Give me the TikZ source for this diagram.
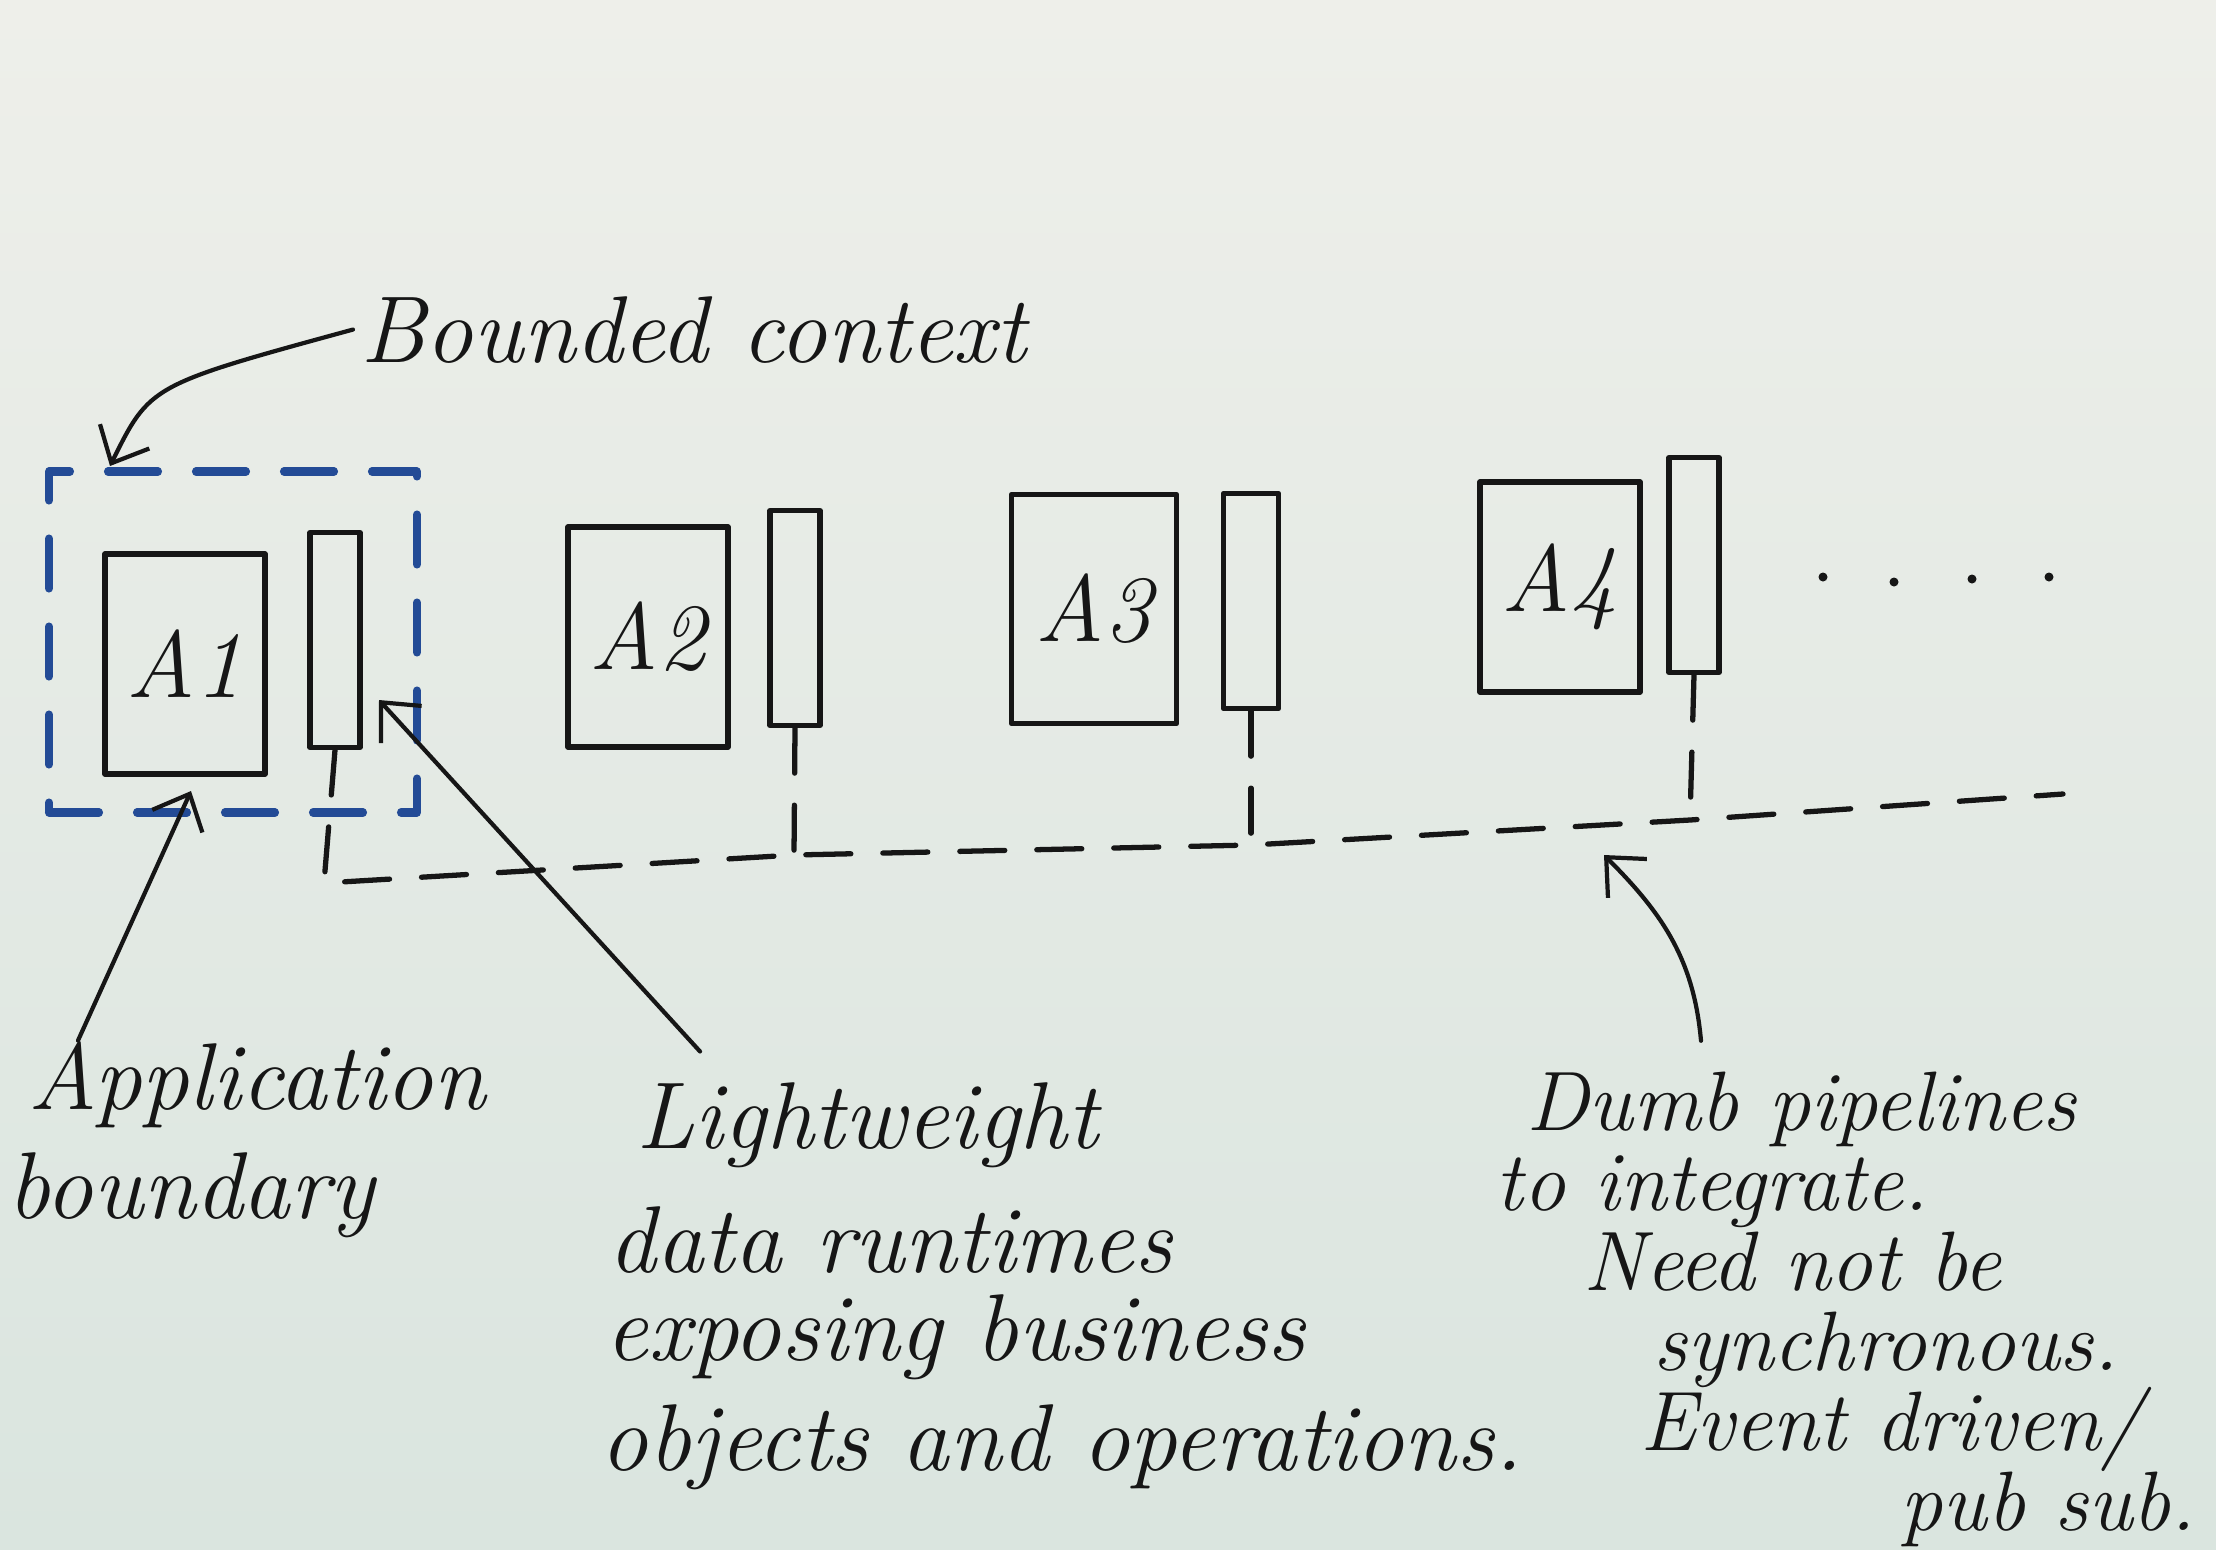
\documentclass[tikz,border=0pt]{standalone}
\usepackage{tikz}
\usetikzlibrary{arrows.meta}
\definecolor{paper}{RGB}{238,239,234}
\definecolor{paperlow}{RGB}{218,229,223}
\definecolor{inkblue}{RGB}{35,75,150}
\definecolor{ink}{RGB}{22,22,22}

\begin{document}
\begin{tikzpicture}[>={Straight Barb[length=3mm,width=5.5mm]},line join=round,line cap=round,
  hand/.style={font=\fontsize{27}{30}\selectfont\itshape,text=ink,inner sep=0pt,anchor=base west},
  handsm/.style={hand,font=\fontsize{24}{27}\selectfont\itshape},
  appbox/.style={draw=ink,line width=1.6pt,minimum width=1.6cm,minimum height=2.2cm,inner sep=0pt,font=\fontsize{27}{30}\selectfont\itshape,text=ink},
  runtime/.style={draw=ink,line width=1.5pt,minimum width=0.5cm,minimum height=2.15cm,inner sep=0pt},
  bcbox/.style={draw=inkblue,line width=2.3pt,dash pattern=on 0.5cm off 0.38cm,minimum width=3.68cm,minimum height=3.41cm},
  pipe/.style={draw=ink,line width=1.5pt,dash pattern=on 0.45cm off 0.32cm},
  arr/.style={->,draw=ink,line width=1.2pt}]
  \shade[top color=paper,bottom color=paperlow] (0,0) rectangle (22.16,-15.49);
  \useasboundingbox (0,0) rectangle (22.16,-15.49);
  \node[bcbox] (BC) at (2.33,-6.42) {};
  \node[appbox] (A1) at (1.85,-6.64) {A1};
  \node[runtime] (R1) at (3.35,-6.40) {};
  \node[appbox] (A2) at (6.48,-6.37) {A2};
  \node[runtime] (R2) at (7.95,-6.18) {};
  \node[appbox,minimum width=1.65cm,minimum height=2.29cm] (A3) at (10.94,-6.09) {A3};
  \node[runtime,minimum width=0.55cm] (R3) at (12.51,-6.01) {};
  \node[appbox,minimum height=2.1cm] (A4) at (15.60,-5.87) {A4};
  \node[runtime] (R4) at (16.94,-5.65) {};
  \fill[ink] (18.23,-5.77) circle (0.045);
  \fill[ink] (18.94,-5.82) circle (0.045);
  \fill[ink] (19.72,-5.79) circle (0.045);
  \fill[ink] (20.49,-5.77) circle (0.045);
  \coordinate (P0) at (3.24,-8.83);
  \coordinate (P1) at (7.94,-8.55);
  \coordinate (P2) at (12.51,-8.45);
  \coordinate (P3) at (16.90,-8.20);
  \coordinate (P4) at (20.63,-7.94);
  \draw[pipe] (R1.south) -- (P0) -- (P1) -- (P2) -- (P3) -- (P4);
  \draw[pipe] (R2.south) -- (P1);
  \draw[pipe] (R3.south) -- (P2);
  \draw[pipe] (R4.south) -- (P3);
  \node[hand] (bc) at (3.60,-3.62) {Bounded context};
  \node[hand] (ap1) at (0.28,-11.09) {Application};
  \node[hand] (ap2) at (0.07,-12.18) {boundary};
  \node[hand] (lw1) at (6.36,-11.48) {Lightweight};
  \node[hand] (lw2) at (6.08,-12.72) {data runtimes};
  \node[hand] (lw3) at (6.05,-13.60) {exposing business};
  \node[hand] (lw4) at (6.00,-14.70) {objects and operations.};
  \node[handsm] (dp1) at (15.26,-11.30) {Dumb pipelines};
  \node[handsm] (dp2) at (14.95,-12.10) {to integrate.};
  \node[handsm] (dp3) at (15.83,-12.90) {Need not be};
  \node[handsm] (dp4) at (16.53,-13.70) {synchronous.};
  \node[handsm] (dp5) at (16.40,-14.50) {Event driven/};
  \node[handsm] (dp6) at (19.00,-15.30) {pub sub.};
  \coordinate (bctip) at (1.10,-4.66);
  \coordinate (aptip) at (1.91,-7.91);
  \coordinate (lwtip) at (3.79,-7.00);
  \coordinate (dptip) at (16.04,-8.55);
  \draw[arr] ([xshift=-2pt]bc.west) .. controls (1.5,-3.85) .. (bctip);
  \draw[arr] ([xshift=0.5cm]ap1.north west) -- (aptip);
  \draw[arr] ([xshift=0.64cm,yshift=0.3cm]lw1.north west) -- (lwtip);
  \draw[arr] ([xshift=1.75cm,yshift=0.3cm]dp1.north west) to[out=95,in=-45] (dptip);
\end{tikzpicture}
\end{document}
